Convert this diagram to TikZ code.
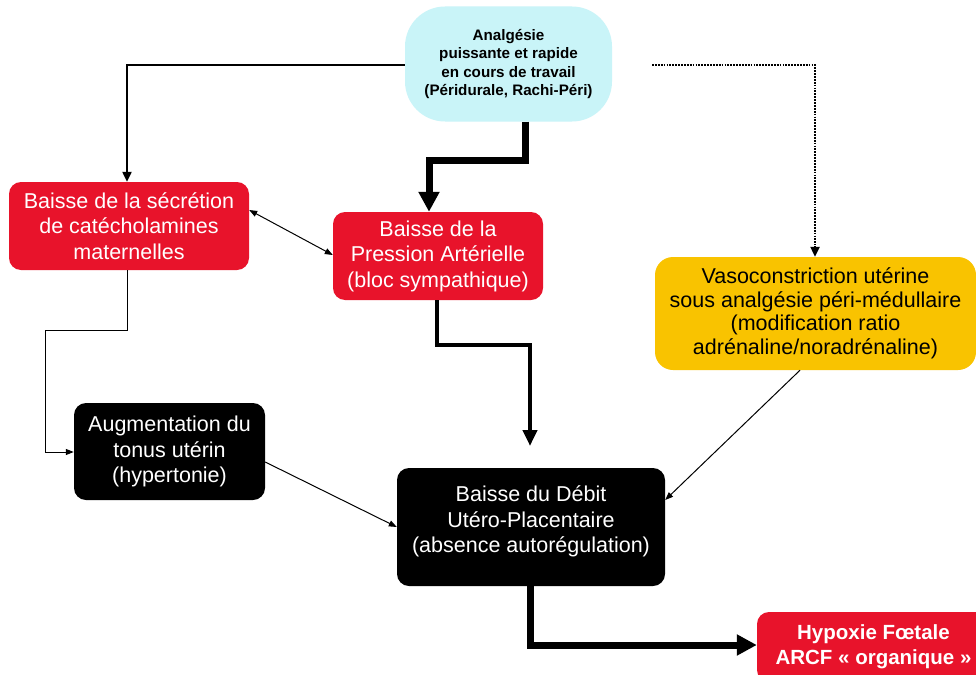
\documentclass[tikz,border=0pt]{standalone}
\usepackage{fontspec}
\setmainfont{Liberation Sans}
\usetikzlibrary{arrows.meta}
\definecolor{boxred}{HTML}{E8132B}
\definecolor{boxcyan}{HTML}{C9F4F8}
\definecolor{boxyellow}{HTML}{F9C300}
\begin{document}
\begin{tikzpicture}[x=1pt,y=-1pt,
  base/.style={rectangle,align=center,inner sep=0pt,font=\fontsize{21.5}{25.5}\selectfont},
  redbox/.style={base,fill=boxred,text=white,rounded corners=12pt},
  blackbox/.style={base,fill=black,text=white,rounded corners=12pt},
  thin/.style={line width=1pt,-{Triangle[length=8pt,width=6pt]}},
  med/.style={line width=2.2pt,-{Triangle[length=10pt,width=9pt]}},
  thick/.style={line width=4pt,-{Triangle[length=16pt,width=14pt]}},
  vthick/.style={line width=7pt,-{Triangle[length=20pt,width=20pt]}}]
\useasboundingbox[fill=white] (0,0) rectangle (976,674);

\node[base,fill=boxcyan,rounded corners=40pt,minimum width=207pt,minimum height=115pt,font=\bfseries\fontsize{15.2}{18.5}\selectfont] (ana) at (508.5,64)
  {Analgésie\\puissante et rapide\\en cours de travail\\(Péridurale, Rachi-Péri)};
\node[redbox,minimum width=240pt,minimum height=88pt] (sec) at (129,226)
  {Baisse de la sécrétion\\de catécholamines\\maternelles};
\node[redbox,minimum width=210pt,minimum height=88pt] (pre) at (438,256)
  {Baisse de la\\Pression Artérielle\\(bloc sympathique)};
\node[base,fill=boxyellow,rounded corners=18pt,minimum width=321pt,minimum height=113pt,font=\fontsize{21.5}{23.5}\selectfont] (vaso) at (815.5,313.5)
  {Vasoconstriction utérine\\sous analgésie péri-médullaire\\(modification ratio\\adrénaline/noradrénaline)};
\node[blackbox,minimum width=191pt,minimum height=97pt] (aug) at (169.5,451.5)
  {Augmentation du\\tonus utérin\\(hypertonie)};
\node[blackbox,minimum width=268pt,minimum height=118pt] (deb) at (531,527)
  {Baisse du Débit\\Utéro-Placentaire\\(absence autorégulation)\\[-10pt]\mbox{}};
\node[redbox,minimum width=233pt,minimum height=70pt,font=\bfseries\fontsize{20.5}{25}\selectfont] (hyp) at (873.5,647)
  {Hypoxie Fœtale\\ARCF « organique »};

% connectors
\draw[med] (ana.west |- 0,65) -| (sec.north -| 127,0);
\draw[vthick] (ana.south -| 525,0) |- (429,160) -- (pre.north -| 429,0);
\coordinate (dotstart) at (652,65);
\draw[line width=2.4pt,dash pattern=on 1.8pt off 1.1pt] (dotstart) -| (815,245);
\draw[-{Triangle[length=10pt,width=9pt]},line width=2.2pt] (815,246) -- (vaso.north -| 815,0);
\draw[line width=1pt,{Triangle[length=8pt,width=6pt]}-{Triangle[length=8pt,width=6pt]}] (sec.east |- 0,210) -- (pre.west |- 0,255);
\draw[thin] (sec.south -| 127,0) -- (127,330) -| (45,452) -- (aug.west |- 0,452);
\coordinate (preend) at (530,446);
\draw[thick] (pre.south -| 437,0) |- (530,345) -- (preend);
\draw[thin] (aug.east |- 0,462) -- (deb.west |- 0,527);
\draw[thin] (vaso.south -| 800,0) -- (deb.east |- 0,500);
\draw[vthick] (deb.south -| 530,0) |- (hyp.west |- 0,645);
\end{tikzpicture}
\end{document}
